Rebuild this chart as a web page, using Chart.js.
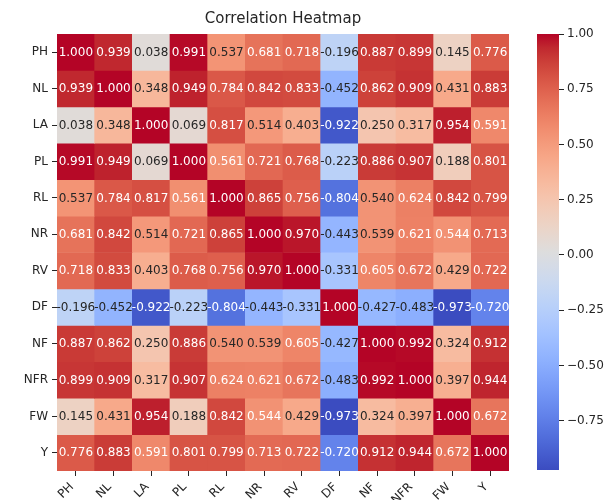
<!DOCTYPE html>
<html>
<head>
<meta charset="utf-8">
<script src="https://cdn.jsdelivr.net/npm/chart.js@4/dist/chart.umd.min.js"></script>
<style>
  html, body { margin: 0; padding: 0; background: #ffffff; }
  #wrap { position: relative; width: 605px; height: 500px; }
  #wrap canvas { position: absolute; left: 0; top: 0; }
</style>
</head>
<body>
<div id="wrap">
  <canvas id="heat" width="605" height="500"></canvas>
  <canvas id="scale" width="605" height="500"></canvas>
</div>
<script>
// Variables (row and column order of the matrix)
const variables = ['PH', 'NL', 'LA', 'PL', 'RL', 'NR', 'RV', 'DF', 'NF', 'NFR', 'FW', 'Y'];

// Pearson correlations, one row per variable
const corrPH  = [ 1.000,  0.939,  0.038,  0.991,  0.537,  0.681,  0.718, -0.196,  0.887,  0.899,  0.145,  0.776];
const corrNL  = [ 0.939,  1.000,  0.348,  0.949,  0.784,  0.842,  0.833, -0.452,  0.862,  0.909,  0.431,  0.883];
const corrLA  = [ 0.038,  0.348,  1.000,  0.069,  0.817,  0.514,  0.403, -0.922,  0.250,  0.317,  0.954,  0.591];
const corrPL  = [ 0.991,  0.949,  0.069,  1.000,  0.561,  0.721,  0.768, -0.223,  0.886,  0.907,  0.188,  0.801];
const corrRL  = [ 0.537,  0.784,  0.817,  0.561,  1.000,  0.865,  0.756, -0.804,  0.540,  0.624,  0.842,  0.799];
const corrNR  = [ 0.681,  0.842,  0.514,  0.721,  0.865,  1.000,  0.970, -0.443,  0.539,  0.621,  0.544,  0.713];
const corrRV  = [ 0.718,  0.833,  0.403,  0.768,  0.756,  0.970,  1.000, -0.331,  0.605,  0.672,  0.429,  0.722];
const corrDF  = [-0.196, -0.452, -0.922, -0.223, -0.804, -0.443, -0.331,  1.000, -0.427, -0.483, -0.973, -0.720];
const corrNF  = [ 0.887,  0.862,  0.250,  0.886,  0.540,  0.539,  0.605, -0.427,  1.000,  0.992,  0.324,  0.912];
const corrNFR = [ 0.899,  0.909,  0.317,  0.907,  0.624,  0.621,  0.672, -0.483,  0.992,  1.000,  0.397,  0.944];
const corrFW  = [ 0.145,  0.431,  0.954,  0.188,  0.842,  0.544,  0.429, -0.973,  0.324,  0.397,  1.000,  0.672];
const corrY   = [ 0.776,  0.883,  0.591,  0.801,  0.799,  0.713,  0.722, -0.720,  0.912,  0.944,  0.672,  1.000];

const matrix = [corrPH, corrNL, corrLA, corrPL, corrRL, corrNR, corrRV, corrDF, corrNF, corrNFR, corrFW, corrY];

// Colour bar tick values
const colorbarTicks = [-0.75, -0.50, -0.25, 0.00, 0.25, 0.50, 0.75, 1.00];

// Colour range spans the data
const vmin = Math.min(...matrix.flat());
const vmax = Math.max(...matrix.flat());

// Diverging "coolwarm" colour map, 33 control points from blue to red
const coolwarm = [
  [59, 76, 192], [68, 90, 204], [77, 104, 215], [87, 117, 225], [98, 130, 234],
  [108, 142, 241], [119, 154, 247], [130, 165, 251], [141, 176, 254], [152, 185, 255],
  [163, 194, 255], [174, 201, 253], [184, 208, 249], [194, 213, 244], [204, 217, 238],
  [213, 219, 230], [221, 221, 221], [229, 216, 209], [236, 211, 197], [241, 204, 185],
  [245, 196, 173], [247, 187, 160], [247, 177, 148], [247, 166, 135], [244, 154, 123],
  [241, 141, 111], [236, 127, 99], [229, 112, 88], [222, 96, 77], [213, 80, 66],
  [203, 62, 56], [192, 40, 47], [180, 4, 38]
];

function cmapRGB(t) {
  t = Math.max(0, Math.min(1, t));
  const pos = t * (coolwarm.length - 1);
  const i = Math.min(Math.floor(pos), coolwarm.length - 2);
  const f = pos - i;
  const a = coolwarm[i], b = coolwarm[i + 1];
  return [0, 1, 2].map(k => a[k] + (b[k] - a[k]) * f);
}
function rgbString(c) {
  return 'rgb(' + c.map(v => Math.round(v)).join(',') + ')';
}
function colorFor(v) {
  return cmapRGB((v - vmin) / (vmax - vmin));
}
function luminance(c) {
  const lin = c.map(v => {
    const s = v / 255;
    return s <= 0.03928 ? s / 12.92 : Math.pow((s + 0.055) / 1.055, 2.4);
  });
  return 0.2126 * lin[0] + 0.7152 * lin[1] + 0.0722 * lin[2];
}
function textColorFor(v) {
  return luminance(colorFor(v)) > 0.408 ? '#262626' : '#ffffff';
}

const FONT = '"DejaVu Sans", sans-serif';
const INK = '#262626';

// Writes each correlation in the middle of its cell
const cellLabels = {
  id: 'cellLabels',
  afterDatasetsDraw(chart) {
    const ctx = chart.ctx;
    ctx.save();
    ctx.font = '12px ' + FONT;
    ctx.textAlign = 'center';
    ctx.textBaseline = 'middle';
    chart.data.datasets.forEach((ds, r) => {
      chart.getDatasetMeta(r).data.forEach((bar, c) => {
        const v = matrix[r][c];
        const p = bar.getCenterPoint(true);
        ctx.fillStyle = textColorFor(v);
        ctx.fillText(v.toFixed(3), p.x, p.y + 0.5);
      });
    });
    ctx.restore();
  }
};

// One dataset per row; each cell is a floating bar one row tall
const heatDatasets = matrix.map((row, r) => ({
  label: variables[r],
  data: row.map(() => [r, r + 1]),
  backgroundColor: row.map(v => rgbString(colorFor(v))),
  borderWidth: 0,
  barPercentage: 1,
  categoryPercentage: 1
}));

new Chart(document.getElementById('heat'), {
  type: 'bar',
  data: { labels: variables, datasets: heatDatasets },
  plugins: [cellLabels],
  options: {
    responsive: false,
    animation: false,
    events: [],
    layout: { padding: { left: 0, right: 96, top: 0, bottom: 0 } },
    plugins: {
      legend: { display: false },
      tooltip: { enabled: false },
      title: {
        display: true,
        text: 'Correlation Heatmap',
        fullSize: false,
        color: INK,
        font: { family: FONT, size: 15, weight: 'normal' },
        padding: { top: 10, bottom: 6 }
      }
    },
    scales: {
      x: {
        stacked: true,
        offset: true,
        border: { display: false },
        grid: { offset: false, drawOnChartArea: false, drawTicks: true, tickLength: 5, tickColor: INK },
        ticks: {
          color: INK, font: { family: FONT, size: 12 },
          minRotation: 45, maxRotation: 45, autoSkip: false, padding: 4, labelOffset: -4
        },
        afterFit(s) { s.height = 29; }
      },
      y: {
        stacked: false,
        reverse: true,
        min: 0,
        max: variables.length,
        border: { display: false },
        grid: { drawOnChartArea: false, drawTicks: true, tickLength: 5, tickColor: INK },
        afterBuildTicks(s) { s.ticks = variables.map((_, i) => ({ value: i + 0.5 })); },
        ticks: {
          color: INK, font: { family: FONT, size: 12 }, padding: 4,
          callback: (value, index) => variables[index]
        },
        afterFit(s) { s.width = 57; }
      }
    }
  }
});

// Colour bar: one bar covering the colour range, filled with the map
function colorbarFill(ctx) {
  const chart = ctx.chart;
  const area = chart.chartArea;
  if (!area) return null;
  const g = chart.ctx.createLinearGradient(0, area.bottom, 0, area.top);
  coolwarm.forEach((c, i) => g.addColorStop(i / (coolwarm.length - 1), rgbString(c)));
  return g;
}

new Chart(document.getElementById('scale'), {
  type: 'bar',
  data: {
    labels: [''],
    datasets: [{
      data: [[vmin, vmax]],
      backgroundColor: colorbarFill,
      borderWidth: 0,
      barPercentage: 1,
      categoryPercentage: 1
    }]
  },
  options: {
    responsive: false,
    animation: false,
    events: [],
    layout: { padding: { left: 537, right: 0, top: 34, bottom: 30 } },
    plugins: { legend: { display: false }, tooltip: { enabled: false } },
    scales: {
      x: { display: false },
      y: {
        position: 'right',
        min: vmin,
        max: vmax,
        border: { display: false },
        grid: { drawOnChartArea: false, drawTicks: true, tickLength: 5, tickColor: INK },
        afterBuildTicks(s) { s.ticks = colorbarTicks.map(v => ({ value: v })); },
        ticks: {
          color: INK, font: { family: FONT, size: 12 }, padding: 3,
          callback: (value) => value.toFixed(2).replace('-', '\u2212')
        },
        afterFit(s) { s.width = 46; }
      }
    }
  }
});
</script>
</body>
</html>
